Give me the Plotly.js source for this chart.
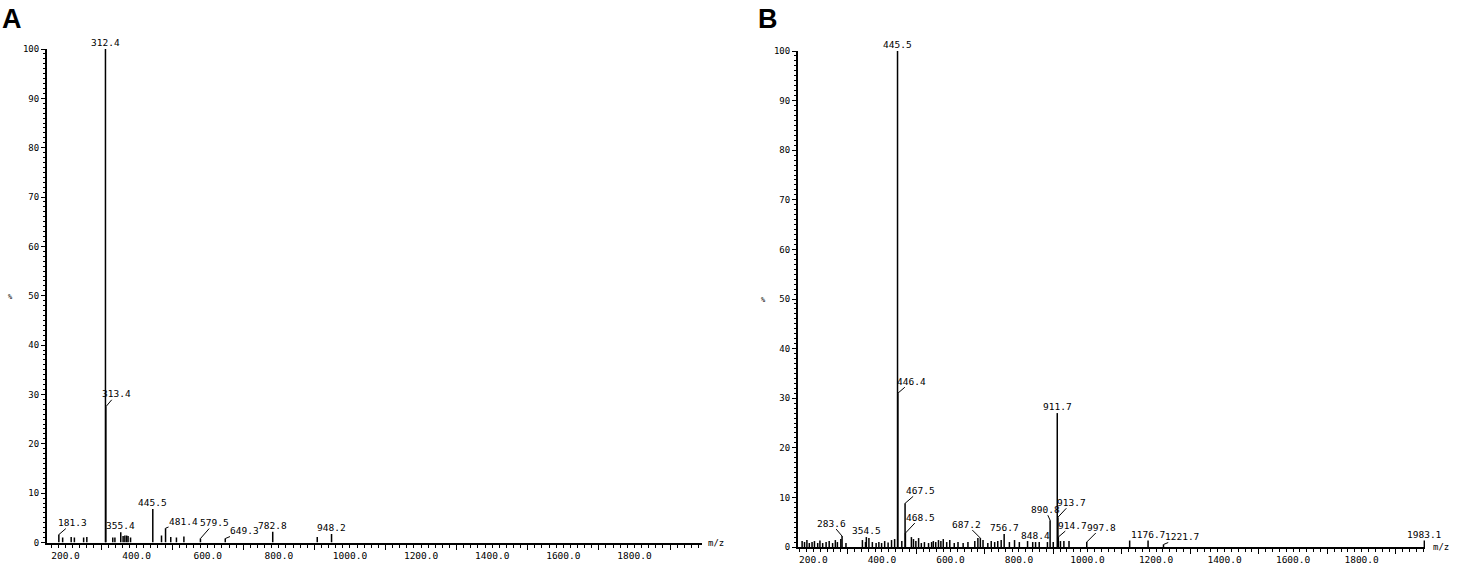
<!DOCTYPE html>
<html>
<head>
<meta charset="utf-8">
<script src="https://cdn.plot.ly/plotly-3.0.1.min.js"></script>
<style>html,body{margin:0;padding:0;background:#fff;}#chart{width:1466px;height:577px;}</style>
</head>
<body>
<div id="chart"></div>
<script>
// ---------- Panel A data (m/z, relative intensity %) ----------
const A_mz  = [181.3, 192, 216, 225, 251, 260, 312.4, 313.4, 333, 339, 355.4, 362, 367, 372, 376, 383, 445.5, 470, 481.4, 496, 512, 533, 579.5, 649.3, 782.8, 908, 948.2];
const A_int = [1.6,   1.0, 1.1, 1.0, 1.0, 1.1, 100,   27.5,  1.0, 1.0, 2.1,   1.3, 1.4, 1.4, 1.3, 1.0, 6.8,   1.4, 2.9,   1.1, 1.0, 1.2, 0.8,   0.8,   2.2,   1.1, 1.7];
const A_labels = [312.4, 313.4, 181.3, 355.4, 445.5, 481.4, 579.5, 649.3, 782.8, 948.2];

// ---------- Panel B data ----------
const B_mz  = [167, 174, 181, 188, 196, 203, 212.5, 219, 227, 237, 246, 256, 264, 270, 280, 283.6, 295,
               343, 352, 354.5, 362, 372, 383, 391, 399, 408, 418, 428, 437, 445.5, 446.4, 458, 467.5, 468.5,
               486, 492, 499, 507, 515, 524, 536, 545, 550, 557, 565, 572, 579, 589, 598, 611, 622, 637, 651,
               671, 680, 687.2, 695, 709, 719, 729, 738, 748, 756.7, 772, 787, 801, 825, 840, 848.4, 859, 883,
               890.8, 900, 911.7, 913.7, 914.7, 921, 931, 946, 997.8, 1123, 1176.7, 1221.7, 1983.1];
const B_int = [1.2, 1.0, 1.4, 0.8, 1.0, 1.2, 0.8, 1.3, 0.8, 1.0, 1.2, 0.8, 1.4, 1.0, 1.6, 2.2, 0.8,
               1.4, 1.0, 2.0, 1.8, 1.0, 0.8, 1.0, 0.8, 1.2, 0.9, 1.4, 1.6, 100, 31, 1.2, 8.8, 2.8,
               2.0, 1.6, 1.2, 1.8, 0.8, 1.0, 0.8, 1.0, 1.2, 1.0, 1.4, 1.2, 1.6, 1.0, 1.4, 0.8, 1.0, 0.8, 1.0,
               1.2, 1.8, 1.8, 1.4, 0.8, 1.2, 1.0, 1.2, 1.4, 2.6, 1.0, 1.4, 1.0, 1.2, 1.0, 1.0, 1.0, 1.0,
               5.4, 1.0, 27, 6.0, 2.0, 1.2, 1.2, 1.2, 1.0, 1.3, 1.3, 0.5, 1.3];
const B_labels = [445.5, 446.4, 911.7, 467.5, 468.5, 283.6, 354.5, 687.2, 756.7, 848.4, 890.8, 913.7, 914.7, 997.8, 1176.7, 1221.7, 1983.1];

// axis tick labels
const xTickVals = [200, 400, 600, 800, 1000, 1200, 1400, 1600, 1800];
const xTickText = ['200.0', '400.0', '600.0', '800.0', '1000.0', '1200.0', '1400.0', '1600.0', '1800.0'];
const xMidTicks = [300, 500, 700, 900, 1100, 1300, 1500, 1700, 1900];
const yTickVals = [0, 10, 20, 30, 40, 50, 60, 70, 80, 90, 100];

// ---------- styling: leader offsets (px) for labels that are shifted ----------
const leadA = {'313.4': [11, -13], '181.3': [14, -12], '481.4': [18, -7], '579.5': [14, -16], '649.3': [19, -8]};
const leadB = {'446.4': [14, -12], '467.5': [15, -13], '468.5': [15, -16], '283.6': [-11, -13], '687.2': [-14, -14],
               '890.8': [-5, -11], '913.7': [14, -15], '914.7': [14, -12], '997.8': [15, -15], '1221.7': [19, -8]};

const MONO = 'DejaVu Sans Mono';
const INK = '#000';
const FS = 9.5;

function sticks(mz, inten, xa, ya) {
  const x = [], y = [];
  mz.forEach((m, i) => { x.push(m, m, null); y.push(0, inten[i], null); });
  return {type: 'scatter', mode: 'lines', x: x, y: y, xaxis: xa, yaxis: ya,
          line: {color: '#000', width: 1.5}, hoverinfo: 'skip', cliponaxis: false, showlegend: false};
}

function labelAnns(labels, mz, inten, lead, xref, yref) {
  return labels.map(l => {
    const i = mz.indexOf(l);
    const txt = l.toFixed(1);
    const base = {x: l, y: inten[i], xref: xref, yref: yref, text: txt,
                  font: {family: MONO, size: FS, color: INK}};
    if (lead[txt]) {
      return Object.assign(base, {showarrow: true, arrowhead: 0, arrowwidth: 1, arrowcolor: '#000',
                                  ax: lead[txt][0], ay: lead[txt][1], standoff: 0, startstandoff: 0, borderpad: 0});
    }
    return Object.assign(base, {showarrow: false, yanchor: 'bottom', xanchor: 'center', yshift: 0, borderpad: 0});
  });
}

const xBase = {
  showgrid: false, zeroline: false, showline: true, linecolor: '#000', linewidth: 2,
  tickmode: 'array', tickvals: xTickVals, ticktext: xTickText, ticks: 'outside', ticklen: 3, tickwidth: 1,
  tickcolor: '#000', tickfont: {family: MONO, size: FS, color: INK},
  minor: {dtick: 20, tick0: 0, ticks: 'outside', ticklen: 3, tickwidth: 1, tickcolor: '#000'},
  fixedrange: true
};
const xOver = {
  showgrid: false, zeroline: false, showline: false, tickmode: 'array', tickvals: xMidTicks,
  showticklabels: false, ticks: 'outside', ticklen: 6, tickwidth: 1, tickcolor: '#000', fixedrange: true
};
const yBase = {
  range: [0, 100], showgrid: false, zeroline: false, showline: true, linecolor: '#000', linewidth: 2,
  tickmode: 'array', tickvals: yTickVals, ticks: 'outside', ticklen: 4, tickwidth: 1, tickcolor: '#000',
  tickfont: {family: MONO, size: 9, color: INK},
  minor: {dtick: 1, tick0: 0, ticks: 'outside', ticklen: 2, tickwidth: 1, tickcolor: '#000'},
  fixedrange: true
};

const W = 1466, H = 577;
const layout = {
  width: W, height: H, margin: {l: 0, r: 0, t: 0, b: 0},
  paper_bgcolor: '#fff', plot_bgcolor: 'rgba(0,0,0,0)', showlegend: false,
  xaxis:  Object.assign({}, xBase, {domain: [47 / W, 702 / W], range: [148, 1990], anchor: 'y'}),
  yaxis:  Object.assign({}, yBase, {domain: [(H - 542.5) / H, (H - 49) / H], anchor: 'x'}),
  xaxis2: Object.assign({}, xBase, {domain: [798 / W, 1425 / W], range: [155, 1985], anchor: 'y2'}),
  yaxis2: Object.assign({}, yBase, {domain: [(H - 547) / H, (H - 51) / H], anchor: 'x2'}),
  xaxis3: Object.assign({}, xOver, {overlaying: 'x', anchor: 'y', range: [148, 1990]}),
  xaxis4: Object.assign({}, xOver, {overlaying: 'x2', anchor: 'y2', range: [155, 1985]}),
  annotations: [].concat(
    labelAnns(A_labels, A_mz, A_int, leadA, 'x', 'y'),
    labelAnns(B_labels, B_mz, B_int, leadB, 'x2', 'y2'),
    [
      {text: '<b>A</b>', xref: 'paper', yref: 'paper', x: 0 / W, y: (H - 2) / H, xanchor: 'left', yanchor: 'top',
       showarrow: false, font: {family: 'Liberation Sans', size: 27, color: '#000'}},
      {text: '<b>B</b>', xref: 'paper', yref: 'paper', x: 756 / W, y: (H - 2) / H, xanchor: 'left', yanchor: 'top',
       showarrow: false, font: {family: 'Liberation Sans', size: 27, color: '#000'}},
      {text: 'm/z', xref: 'x domain', yref: 'y', x: 1, y: 0, xanchor: 'left', yanchor: 'middle', xshift: 4,
       showarrow: false, font: {family: MONO, size: 9, color: INK}},
      {text: 'm/z', xref: 'x2 domain', yref: 'y2', x: 1, y: 0, xanchor: 'left', yanchor: 'middle', xshift: 6,
       showarrow: false, font: {family: MONO, size: 9, color: INK}},
      {text: '%', xref: 'paper', yref: 'paper', x: 10 / W, y: (H - 297) / H, xanchor: 'center', yanchor: 'middle',
       showarrow: false, font: {family: MONO, size: 7, color: INK}},
      {text: '%', xref: 'paper', yref: 'paper', x: 763 / W, y: (H - 300) / H, xanchor: 'center', yanchor: 'middle',
       showarrow: false, font: {family: MONO, size: 7, color: INK}}
    ]
  )
};

const data = [
  sticks(A_mz, A_int, 'x', 'y'),
  sticks(B_mz, B_int, 'x2', 'y2'),
  {type: 'scatter', mode: 'lines', x: [], y: [], xaxis: 'x3', yaxis: 'y', hoverinfo: 'skip', showlegend: false},
  {type: 'scatter', mode: 'lines', x: [], y: [], xaxis: 'x4', yaxis: 'y2', hoverinfo: 'skip', showlegend: false}
];

Plotly.newPlot('chart', data, layout, {staticPlot: true, displayModeBar: false});
</script>
</body>
</html>
